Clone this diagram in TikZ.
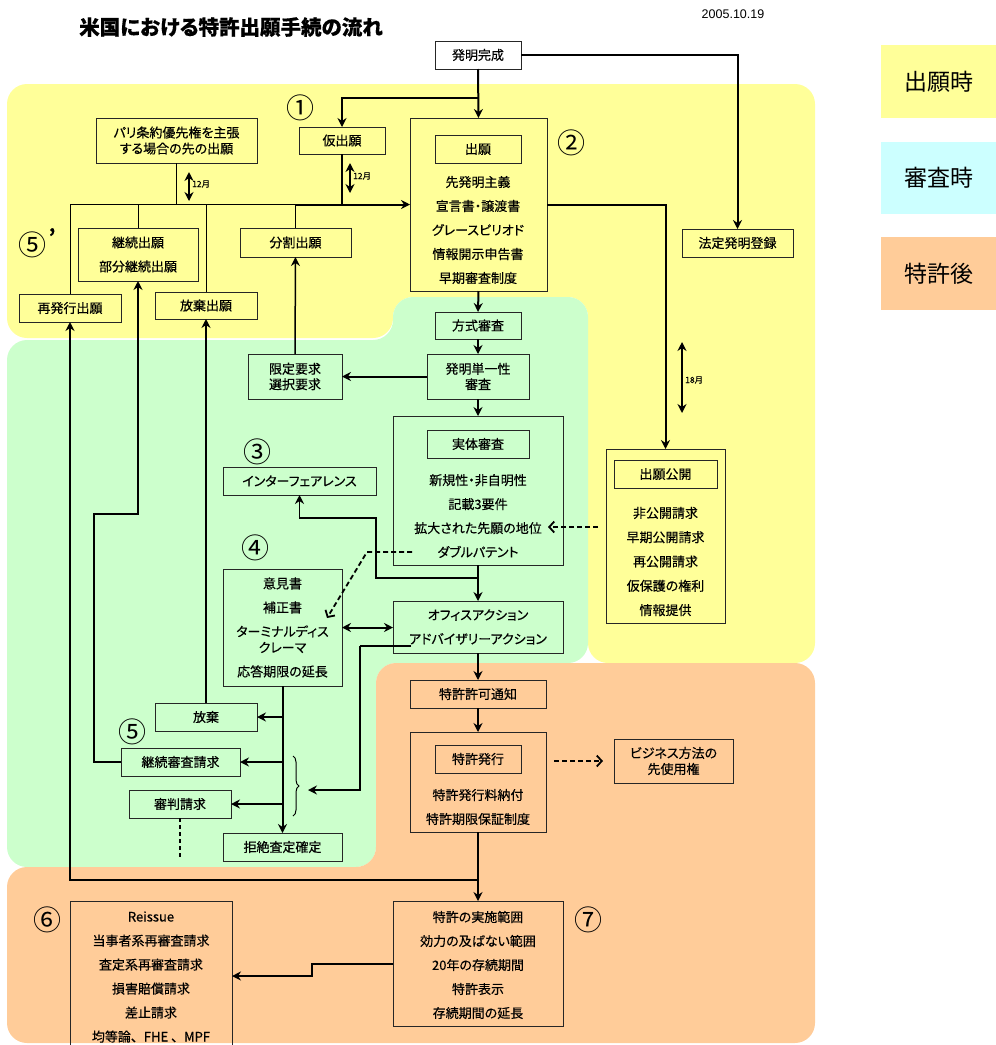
\documentclass[tikz,border=0pt]{standalone}
\usepackage{fontspec}
\setmainfont{Noto Sans CJK JP}[RawFeature={+palt}, FakeBold=0.35]
\newfontfamily\plainjp{Noto Sans CJK JP}
\newfontfamily\datefont{Liberation Sans}
\usetikzlibrary{arrows.meta,decorations.pathreplacing}
\definecolor{appY}{HTML}{FFFF99}
\definecolor{examG}{HTML}{CCFFCC}
\definecolor{postO}{HTML}{FFCC99}
\definecolor{legC}{HTML}{CCFFFF}
\tikzset{
  box/.style={draw=black!85, line width=1pt, inner sep=0pt, outer sep=0pt,
    align=center, font=\fontsize{13}{15.5}\selectfont},
  listtext/.style={inner sep=0pt, align=center, font=\fontsize{13}{24}\selectfont},
  conn/.style={line width=2pt, -{Stealth[length=9pt,width=9pt,inset=3pt]}},
  midconn/.style={line width=1.5pt, -{Stealth[length=9pt,width=9pt,inset=3pt]}},
  dblconn/.style={line width=2pt, {Stealth[length=9pt,width=9pt,inset=3pt]}-{Stealth[length=9pt,width=9pt,inset=3pt]}},
  bar/.style={line width=2pt},
  midbar/.style={line width=1.5pt},
  thinbar/.style={line width=1pt},
  dconn/.style={line width=1.8pt, dash pattern=on 5pt off 3pt,
    -{Straight Barb[length=5pt,width=11pt,line width=1.8pt]}},
  small/.style={inner sep=0pt, font=\fontsize{8.5}{9}\selectfont, anchor=west},
  circnum/.style={inner sep=0pt, font=\plainjp\fontsize{28}{28}\selectfont},
  legend/.style={inner sep=0pt, minimum width=115pt, font=\plainjp\fontsize{23}{23}\selectfont},
  region/.style={rounded corners=20pt}
}
% \bx[options]{name}{x1}{y1}{x2}{y2}{text}
\newcommand\bx[7][]{%
  \node[box,#1,minimum width={(#5-#3)*1pt},minimum height={(#6-#4)*1pt}]
    (#2) at ({(#3+#5)/2},{(#4+#6)/2}) {#7};}
\begin{document}
\begin{tikzpicture}[x=1pt,y=-1pt]
\useasboundingbox (0,0) rectangle (996,1045);

% phase backgrounds
\fill[appY, region] (7,84) -- (815,84) -- (815,663) -- (588,663) -- (588,297)
  -- (393,297) -- (393,338) -- (7,338) -- cycle;
\fill[examG, region] (7,340) -- (393,340) -- (393,297) -- (588,297) -- (588,663)
  -- (376,663) -- (376,867) -- (7,867) -- cycle;
\fill[postO, region] (376,663) -- (815,663) -- (815,1043) -- (7,1043) -- (7,867)
  -- (376,867) -- cycle;

% legend
\node[legend, fill=appY, minimum height=73pt] (legA) at (938.5,81.5) {出願時};
\node[legend, fill=legC, minimum height=72pt] (legB) at (938.5,178) {審査時};
\node[legend, fill=postO, minimum height=73pt] (legC) at (938.5,273.5) {特許後};

% headings
\node[inner sep=0pt, font=\fontsize{20.5}{20.5}\selectfont\bfseries] (title) at (231,27) {米国における特許出願手続の流れ};
\node[inner sep=0pt, font=\datefont\fontsize{12.5}{12.5}\selectfont] (date) at (733,14) {2005.10.19};

% circled step numbers
\node[circnum] (c1) at (300,108) {①};
\node[circnum] (c2) at (571,143) {②};
\node[circnum] (c3) at (257,452) {③};
\node[circnum] (c4) at (255,548) {④};
\node[circnum] (c5) at (132,732) {⑤};
\node[circnum] (c5p) at (33,245) {⑤};
\node[inner sep=0pt, font=\fontsize{20}{20}\selectfont\bfseries] (c5q) at (52,236) {’};
\node[circnum] (c6) at (48,920) {⑥};
\node[circnum] (c7) at (588,920) {⑦};

% filing stage
\bx{hatsumei}{435}{41}{521}{69}{発明完成}
\bx{kari}{299}{127}{385}{154}{仮出願}
\bx[font=\fontsize{13}{16}\selectfont]{paris}{96}{118}{257}{163}{パリ条約優先権を主張\\する場合の先の出願}
\bx[font=\fontsize{13}{24}\selectfont]{keizokuA}{78}{228}{198}{281}{継続出願\\部分継続出願}
\bx{bunkatsu}{240}{228}{351}{257}{分割出願}
\bx{saihakkou}{19}{294}{121}{322}{再発行出願}
\bx{houkiA}{155}{292}{257}{319}{放棄出願}
\bx{shutsugan}{410}{118}{547}{291}{}
\bx{shutsuganHead}{435}{135}{521}{163}{出願}
\node[listtext] (shutsuganList) at (478,230) {先発明主義\\宣言書・譲渡書\\グレースピリオド\\情報開示申告書\\早期審査制度};
\bx{houtei}{682}{229}{793}{257}{法定発明登録}
\bx{koukai}{606}{449}{725}{623}{}
\bx{koukaiHead}{614}{460}{717}{488}{出願公開}
\node[listtext, font=\fontsize{13}{24.3}\selectfont] (koukaiList) at (665.5,561.5) {非公開請求\\早期公開請求\\再公開請求\\仮保護の権利\\情報提供};

% examination stage
\bx{houshiki}{435}{312}{521}{339}{方式審査}
\bx{tanitsu}{427}{354}{529}{399}{発明単一性\\審査}
\bx{gentei}{248}{354}{342}{399}{限定要求\\選択要求}
\bx{jittai}{393}{416}{563}{565}{}
\bx{jittaiHead}{427}{430}{529}{458}{実体審査}
\node[listtext] (jittaiList) at (478,516) {新規性・非自明性\\記載3要件\\拡大された先願の地位\\ダブルパテント};
\bx{interf}{223}{467}{376}{495}{インターフェアレンス}
\bx[font=\fontsize{13}{16}\selectfont]{iken}{223}{569}{342}{686}{意見書\\[8pt]補正書\\[8pt]ターミナルディス\\クレーマ\\[8pt]応答期限の延長}
\bx[font=\fontsize{13}{24}\selectfont]{oa}{393}{601}{563}{653}{オフィスアクション\\アドバイザリーアクション}
\bx{houki}{155}{703}{257}{731}{放棄}
\bx{keizokuS}{121}{748}{240}{776}{継続審査請求}
\bx{shinpan}{129}{790}{231}{818}{審判請求}
\bx{kyozetsu}{223}{833}{342}{861}{拒絶査定確定}

% post-grant stage
\bx{kyoka}{410}{680}{546}{708}{特許許可通知}
\bx{hakkou}{410}{732}{546}{832}{}
\bx{hakkouHead}{435}{745}{521}{773}{特許発行}
\node[listtext] (hakkouList) at (478,807) {特許発行料納付\\特許期限保証制度};
\bx[font=\fontsize{13}{16}\selectfont]{biz}{614}{739}{733}{783}{ビジネス方法の\\先使用権}
\bx{jisshi}{393}{901}{563}{1026}{}
\node[listtext] (jisshiList) at (478,965) {特許の実施範囲\\効力の及ばない範囲\\20年の存続期間\\特許表示\\存続期間の延長};
\bx{reissue}{70}{901}{232}{1060}{}
\node[listtext] (reissueList) at (151,977) {Reissue\\当事者系再審査請求\\査定系再審査請求\\損害賠償請求\\差止請求\\{\addfontfeature{RawFeature={-palt}}均等論、FHE 、MPF}};

% junction points
\coordinate (jA) at (478,98);
\coordinate (kakudai) at (548,527);
\coordinate (dpS) at (412,552);
\coordinate (dpK) at (367,552);
\coordinate (dpE) at (327,618);
\coordinate (ifA) at (478,578);
\coordinate (ifB) at (376,518);
\coordinate (oaB) at (411,646);
\coordinate (oaC) at (360,646);
\coordinate (braceIn) at (308,790);
\coordinate (reJ) at (478,880);
\coordinate (kzA) at (94,514);
\coordinate (shE) at (181,859);
\coordinate (stepA) at (312,963.5);
\coordinate (stepB) at (312,976);

% filing connectors
\draw[conn] (hatsumei.south) -- (shutsugan.north);
\draw[conn] (jA) -| (kari.north);
\draw[conn] (hatsumei.east) -| (houtei.north);
\draw[bar] (kari.south) -- (kari.south |- shutsugan.west);
\draw[conn] (bunkatsu.north |- shutsugan.west) -- (shutsugan.west);
\draw[thinbar] (saihakkou.north) |- (bunkatsu.north |- shutsugan.west);
\draw[thinbar] (bunkatsu.north) -- (bunkatsu.north |- shutsugan.west);
\draw[thinbar] (keizokuA.north) -- (keizokuA.north |- shutsugan.west);
\draw[thinbar] (paris.south) -- (paris.south |- shutsugan.west);
\draw[thinbar] (houkiA.north) -- (houkiA.north |- shutsugan.west);

% period markers
\coordinate (pA1) at (189,172); \coordinate (pA2) at (189,201);
\draw[dblconn] (pA1) -- (pA2);
\node[small] (pAL) at (192,184) {12月};
\coordinate (pB1) at (350,163); \coordinate (pB2) at (350,193);
\draw[dblconn] (pB1) -- (pB2);
\node[small] (pBL) at (353,176) {12月};
\coordinate (pC1) at (682,342); \coordinate (pC2) at (682,413);
\draw[dblconn] (pC1) -- (pC2);
\node[small] (pCL) at (685,380) {18月};

% examination connectors
\draw[conn] (shutsugan.south) -- (houshiki.north);
\draw[conn] (houshiki.south) -- (tanitsu.north);
\draw[conn] (tanitsu.west) -- (gentei.east);
\draw[midconn] (gentei.north) -- (bunkatsu.south);
\draw[conn] (tanitsu.south) -- (jittai.north);
\draw[conn] (shutsugan.east) -| (koukai.north);
\draw[dconn, shorten <=8pt] (koukai.west |- kakudai) -- (kakudai);
\draw[dconn] (dpS) -- (dpK) -- (dpE);
\draw[conn] (jittai.south) -- (oa.north);
\draw[midconn] (ifA) -| (ifB) -| (interf.south);
\draw[dblconn] (iken.east) -- (iken.east -| oa.west);
\draw[midbar] (oaB) -- (oaC);
\draw[conn] (oaC) |- (braceIn);
\draw[thinbar, decorate, decoration={brace, amplitude=6pt}] (293,756) -- (293,816);
\draw[conn] (iken.south) -- (kyozetsu.north);
\draw[conn] (iken.south |- houki.east) -- (houki.east);
\draw[conn] (iken.south |- keizokuS.east) -- (keizokuS.east);
\draw[conn] (iken.south |- shinpan.east) -- (shinpan.east);
\draw[conn] (houki.north) -- (houkiA.south);
\draw[conn] (keizokuS.west) -| (kzA) -| (keizokuA.south);
\draw[line width=1.5pt, dash pattern=on 4pt off 3pt] (shinpan.south) -- (shinpan.south |- shE);

% post-grant connectors
\draw[conn] (oa.south) -- (kyoka.north);
\draw[conn] (kyoka.south) -- (hakkou.north);
\draw[dconn, shorten <=8pt, shorten >=11pt] (hakkou.east |- biz.west) -- (biz.west);
\draw[conn] (hakkou.south) -- (jisshi.north);
\draw[conn] (reJ) -| (saihakkou.south);
\draw[conn] (jisshi.west) -- (stepA) -- (stepB) -- (reissue.east |- stepB);
\end{tikzpicture}
\end{document}
